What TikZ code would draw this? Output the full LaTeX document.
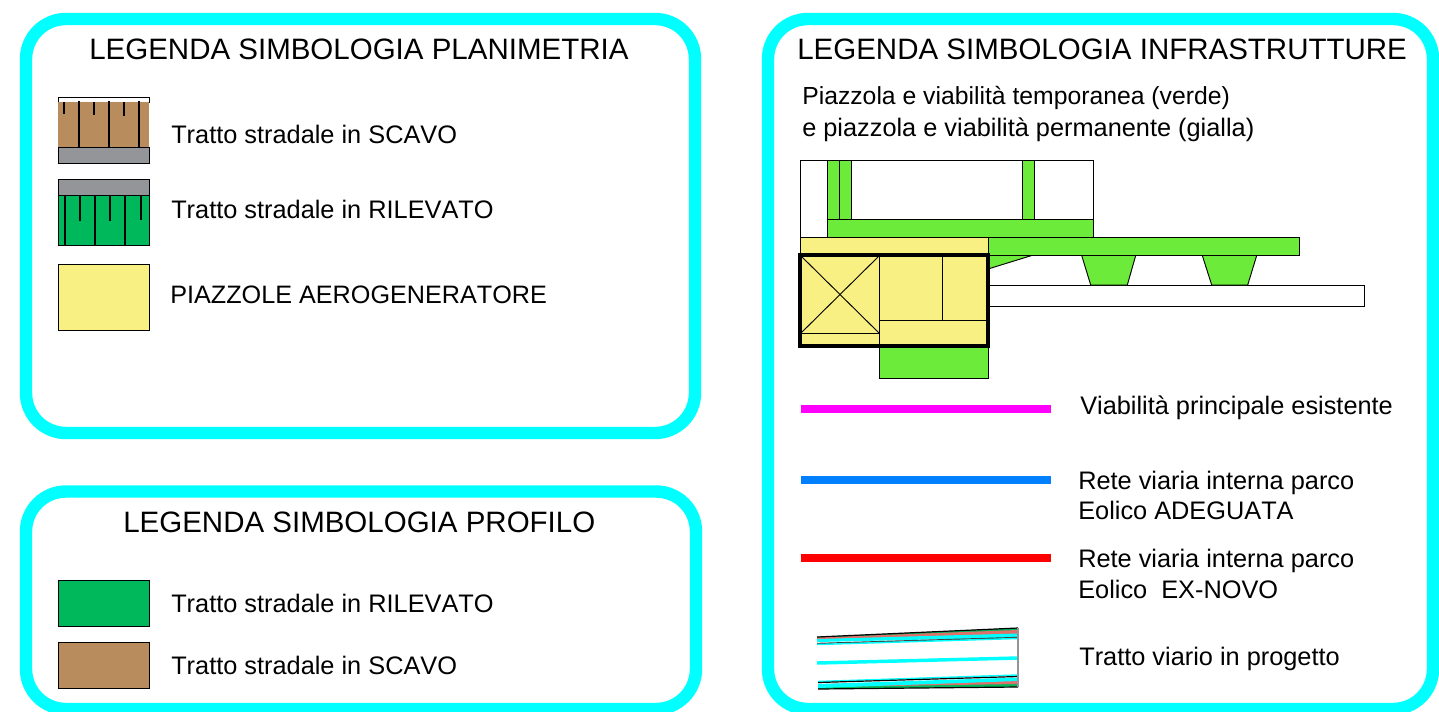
\documentclass[tikz,border=0pt]{standalone}
\usepackage{fontspec}
\setmainfont[Kerning=Off]{Liberation Sans}
\definecolor{panelcyan}{HTML}{00FFFF}
\definecolor{earthbrown}{HTML}{B98C5E}
\definecolor{fillgreen}{HTML}{00B85C}
\definecolor{roadgrey}{HTML}{939598}
\definecolor{padyellow}{HTML}{F8F082}
\definecolor{lightgreen}{HTML}{6CEB3B}
\definecolor{roadblue}{HTML}{0080FF}
\definecolor{roadmagenta}{HTML}{FF00FF}
\definecolor{roadred}{HTML}{FF0000}
\definecolor{salmon}{HTML}{E0706A}
\tikzset{
  panel/.style={draw=panelcyan,line width=9.3pt,rounded corners=30pt,fill=white},
  title/.style={anchor=base west,inner sep=0pt,font=\fontsize{22.12}{26}\selectfont},
  label/.style={anchor=base west,inner sep=0pt,font=\fontsize{19}{23}\selectfont},
  edge/.style={draw=black,line width=0.75pt},
  hair/.style={draw=black,line width=0.7pt},
  legendline/.style={line width=6pt},
  tickline/.style={draw=black,line width=0.8pt},
}
\begin{document}
\begin{tikzpicture}[x=0.75pt,y=-0.75pt]
\fill[white] (0,0) rectangle (1439,711);
\useasboundingbox (0,0) rectangle (1439,711);
% panels
\draw[panel] (26,19) rectangle (695,433);
\draw[panel] (26,491.5) rectangle (696,709);
\draw[panel] (768,19) rectangle (1433,709);
% titles
\node[title] (t1) at (89,59) {LEGENDA SIMBOLOGIA PLANIMETRIA};
\node[title] (t2) at (123,532) {LEGENDA SIMBOLOGIA PROFILO};
\node[title] (t3) at (797,59) {LEGENDA SIMBOLOGIA INFRASTRUTTURE};
% swatch scavo
\filldraw[edge,fill=white] (58,97) rectangle (149,102);
\fill[earthbrown] (58,102) rectangle (149,147);
\filldraw[edge,fill=roadgrey] (58,147) rectangle (149,163);
\foreach \x in {79,109,139} \draw[tickline] (\x,101) -- (\x,147);
\foreach \x/\y in {64/114,94/115,124/116} \draw[tickline] (\x,102) -- (\x,\y);
% swatch rilevato
\filldraw[edge,fill=roadgrey] (58,179) rectangle (149,195);
\filldraw[edge,fill=fillgreen] (58,195) rectangle (149,245);
\foreach \x in {65,95,125} \draw[tickline] (\x,195) -- (\x,245);
\foreach \x/\y in {80/221,110/221,141/220} \draw[tickline] (\x,195) -- (\x,\y);
% swatch piazzole
\filldraw[hair,fill=padyellow] (58,264) rectangle (149,330);
% profile swatches
\filldraw[hair,fill=fillgreen] (58,580) rectangle (149,626);
\filldraw[hair,fill=earthbrown] (58,642) rectangle (149,688);
% left labels
\node[label] (l1) at (171,143) {Tratto stradale in SCAVO};
\node[label] (l2) at (171,218) {Tratto stradale in RILEVATO};
\node[label,font=\fontsize{18.9}{23}\selectfont] (l3) at (170,303) {PIAZZOLE AEROGENERATORE};
\node[label] (l4) at (171,612) {Tratto stradale in RILEVATO};
\node[label] (l5) at (171,674) {Tratto stradale in SCAVO};
% infrastructure header
\node[label,font=\fontsize{18.55}{23}\selectfont] (h1) at (802,104) {Piazzola e viabilità temporanea (verde)};
\node[label] (h2) at (802,136.5) {e piazzola e viabilità permanente (gialla)};
% plan
\draw[hair] (800,237) -- (800,160) -- (1093,160) -- (1093,237);
\filldraw[hair,fill=lightgreen] (827.5,160) rectangle (839.5,219);
\filldraw[hair,fill=lightgreen] (839.5,160) rectangle (851.5,219);
\filldraw[hair,fill=lightgreen] (1022,160) rectangle (1034,219);
\filldraw[hair,fill=lightgreen] (827.5,219) rectangle (1093,237);
\filldraw[hair,fill=white] (988,285) rectangle (1364,306.5);
\filldraw[hair,fill=lightgreen] (988,255.5) -- (1031.7,255.5) -- (988,269) -- cycle;
\filldraw[hair,fill=lightgreen] (1081.7,255.5) -- (1135.7,255.5) -- (1127.3,285) -- (1090.7,285) -- cycle;
\filldraw[hair,fill=lightgreen] (1202.3,255.5) -- (1256.7,255.5) -- (1247.7,285) -- (1211.7,285) -- cycle;
\filldraw[hair,fill=lightgreen] (988,237) rectangle (1299,255.5);
\filldraw[hair,fill=lightgreen] (879,346) rectangle (988,378);
\filldraw[hair,fill=padyellow] (800,237) rectangle (988,255);
\fill[padyellow] (800,255) rectangle (988,346);
\draw[hair] (879,255) -- (879,346);
\draw[hair] (942,255) -- (942,320);
\draw[hair] (879,320) -- (988,320);
\draw[hair] (801,333) -- (879,333);
\draw[hair] (801,333) -- (879,256);
\draw[hair] (801,256) -- (879,333);
\draw[draw=black,line width=2.7pt] (800,255) rectangle (988,346);
% coloured lines
\draw[legendline,draw=roadmagenta] (801,408.5) -- (1051,408.5);
\draw[legendline,draw=roadblue] (801,480) -- (1051,480);
\draw[legendline,draw=roadred] (801,558) -- (1051,558);
% road piece
\fill[fillgreen] (817,637) -- (1018,628) -- (1018,633) -- (817,640) -- cycle;
\fill[salmon] (817,637.5) -- (1018,630) -- (1018,634) -- (817,639.5) -- cycle;
\fill[panelcyan] (817,639) -- (1018,633.5) -- (1018,637.5) -- (817,642) -- cycle;
\draw[line width=0.9pt,draw=black] (817,637) -- (1018,628);
\draw[line width=1pt,draw=black!75] (817,643.5) -- (1018,637.5);
\draw[line width=1.1pt,draw=panelcyan] (817,644.5) -- (1018,638.5);
\draw[line width=2.6pt,draw=panelcyan] (817,663) -- (1018,658);
\fill[fillgreen] (818,687) -- (1018,683) -- (1018,687) -- (818,689) -- cycle;
\fill[salmon] (818,684) -- (1018,680) -- (1018,684) -- (818,687) -- cycle;
\fill[panelcyan] (818,684) -- (1018,677.5) -- (1018,681) -- (818,688) -- cycle;
\draw[line width=1.1pt,draw=panelcyan] (818,681.5) -- (1018,675);
\draw[line width=0.9pt,draw=black] (818,682.5) -- (1018,676.5);
\draw[line width=0.9pt,draw=black] (818,689) -- (1018,687);
\draw[line width=0.9pt,draw=roadgrey] (1018,628) -- (1018,687);
% right labels
\node[label] (r1) at (1080,414) {Viabilità principale esistente};
\node[label] (r2) at (1078,489) {Rete viaria interna parco};
\node[label] (r3) at (1078,519) {Eolico ADEGUATA};
\node[label] (r4) at (1078,567) {Rete viaria interna parco};
\node[label] (r5) at (1078,598) {Eolico\ \ EX-NOVO};
\node[label] (r6) at (1079,665.5) {Tratto viario in progetto};
\end{tikzpicture}
\end{document}
